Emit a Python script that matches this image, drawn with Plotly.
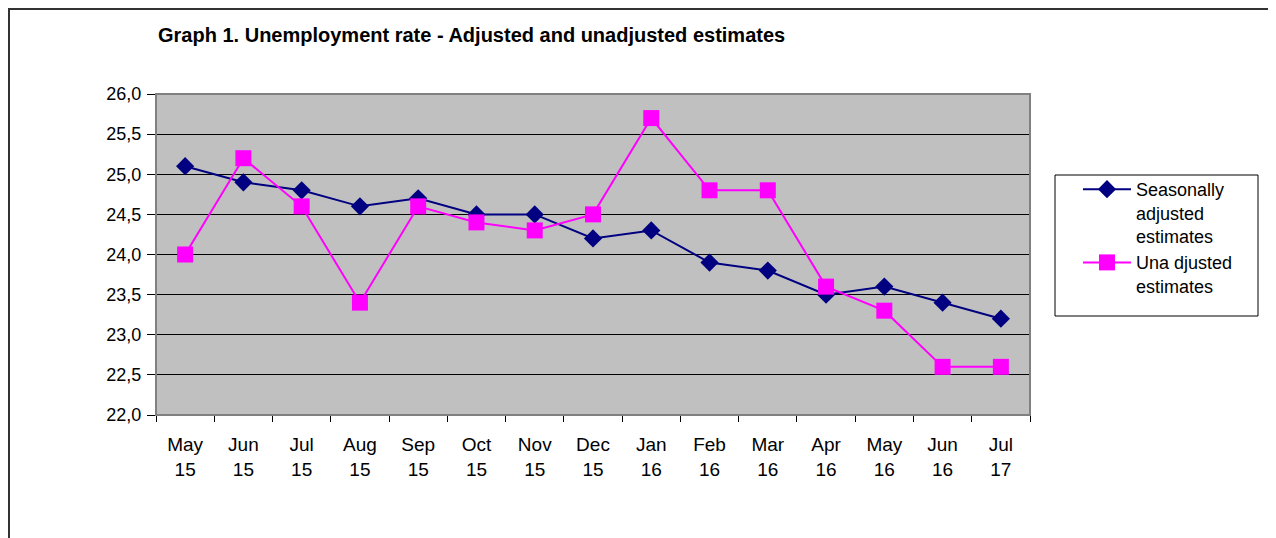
import plotly.graph_objects as go

months = ["May", "Jun", "Jul", "Aug", "Sep", "Oct", "Nov", "Dec", "Jan", "Feb", "Mar", "Apr", "May", "Jun", "Jul"]
years = ["15", "15", "15", "15", "15", "15", "15", "15", "16", "16", "16", "16", "16", "16", "17"]
seasonally_adjusted = [25.1, 24.9, 24.8, 24.6, 24.7, 24.5, 24.5, 24.2, 24.3, 23.9, 23.8, 23.5, 23.6, 23.4, 23.2]
unadjusted = [24.0, 25.2, 24.6, 23.4, 24.6, 24.4, 24.3, 24.5, 25.7, 24.8, 24.8, 23.6, 23.3, 22.6, 22.6]
y_ticks = [22.0, 22.5, 23.0, 23.5, 24.0, 24.5, 25.0, 25.5, 26.0]

W, H = 1276, 538
OFF = 8  # page body margin
# plot area in screen pixels
L, R, T, B = 156, 1030, 94, 415
pw, ph = R - L, B - T

def px(x):
    return (x - L) / pw

def py(y):
    return (B - y) / ph

cats = [f"{m}<br>{y}" for m, y in zip(months, years)]

fig = go.Figure()
fig.add_trace(go.Scatter(
    x=cats, y=seasonally_adjusted, mode="lines+markers",
    name="Seasonally<br>adjusted<br>estimates",
    line=dict(color="#000080", width=2),
    marker=dict(symbol="diamond", size=14, color="#000080"),
))
fig.add_trace(go.Scatter(
    x=cats, y=unadjusted, mode="lines+markers",
    name="Una djusted<br>estimates",
    line=dict(color="#FF00FF", width=2),
    marker=dict(symbol="square", size=16, color="#FF00FF"),
))

font_family = "Liberation Sans, Arial, sans-serif"

fig.update_layout(
    width=W, height=H,
    margin=dict(l=L - OFF, r=W - (R - OFF), t=T - OFF, b=H - (B - OFF), autoexpand=False),
    paper_bgcolor="white",
    plot_bgcolor="#C0C0C0",
    separators=",.",
    font=dict(family=font_family, color="black", size=17),
    showlegend=True,
    legend=dict(
        x=px(1078), y=py(171), xanchor="left", yanchor="top",
        bgcolor="rgba(0,0,0,0)", borderwidth=0,
        font=dict(size=18, family=font_family),
        valign="top", tracegroupgap=0, itemwidth=48,
    ),
    title=dict(
        text="<b>Graph 1. Unemployment rate - Adjusted and unadjusted estimates</b>",
        x=px(158), xanchor="left", xref="paper",
        y=1 - (35 - OFF) / H, yanchor="middle",
        font=dict(size=20, family=font_family, color="black"),
    ),
    xaxis=dict(
        type="category", tickson="boundaries",
        showgrid=False, ticks="outside", ticklen=6, tickcolor="black",
        showline=True, linecolor="black", linewidth=1,
        tickfont=dict(size=19), range=[-0.5, 14.5],
        ticklabelstandoff=12,
    ),
    yaxis=dict(
        range=[22.0, 26.0], tickvals=y_ticks, tickformat=".1f",
        showgrid=True, gridcolor="black", gridwidth=1,
        ticks="outside", ticklen=8, tickcolor="black",
        showline=True, linecolor="black", linewidth=1,
        tickfont=dict(size=18), zeroline=False,
        ticklabelstandoff=2,
    ),
    shapes=[
        dict(type="rect", xref="paper", yref="paper",
             x0=0, x1=1, y0=0, y1=1, line=dict(color="#808080", width=2), layer="above"),
        dict(type="rect", xref="paper", yref="paper",
             x0=px(1055), x1=px(1258), y0=py(316), y1=py(175),
             line=dict(color="black", width=1), fillcolor="white", layer="below"),
        dict(type="rect", xref="paper", yref="paper",
             x0=px(9), x1=px(1272), y0=py(570), y1=py(9),
             line=dict(color="#333333", width=2), layer="below"),
    ],
)

fig.write_html("out.html")
